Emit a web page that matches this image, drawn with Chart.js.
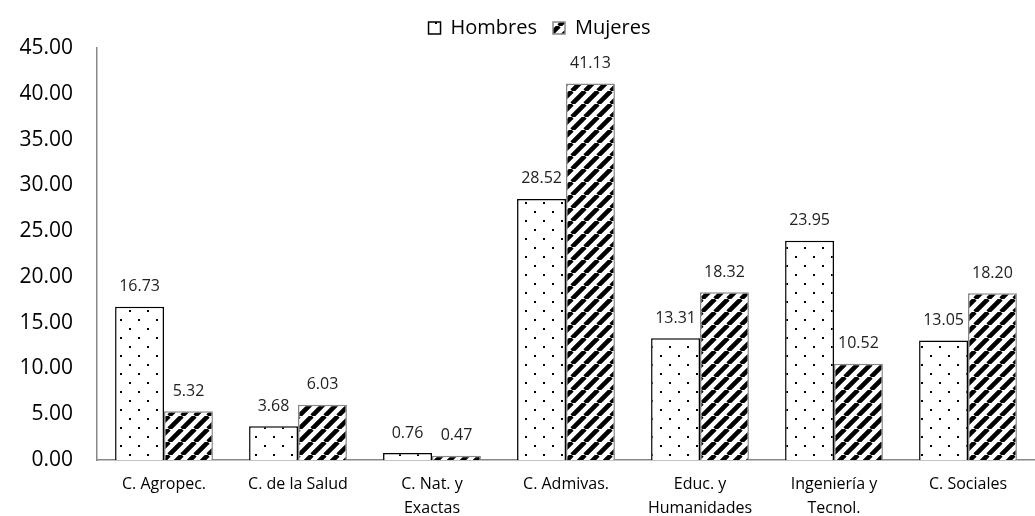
<!DOCTYPE html>
<html lang="es">
<head>
<meta charset="UTF-8">
<title>Hombres y Mujeres por área</title>
<script src="https://cdn.jsdelivr.net/npm/chart.js@4.4.8/dist/chart.umd.min.js"></script>
<style>
    html, body { margin: 0; padding: 0; background: #fff; }
    #wrap { width: 1035px; height: 516px; }
</style>
</head>
<body>
<div id="wrap"><canvas id="myChart"></canvas></div>
<script>
    const categories = [
        'C. Agropec.',
        'C. de la Salud',
        ['C. Nat. y', 'Exactas'],
        'C. Admivas.',
        ['Educ. y', 'Humanidades'],
        ['Ingeniería y', 'Tecnol.'],
        'C. Sociales'
    ]
    const hombres = [16.73, 3.68, 0.76, 28.52, 13.31, 23.95, 13.05]
    const mujeres = [5.32, 6.03, 0.47, 41.13, 18.32, 10.52, 18.20]
    const yTicks = [0, 5, 10, 15, 20, 25, 30, 35, 40, 45]

    const fontFamily = '"Open Sans", sans-serif'

    // dotted fill for Hombres
    const dotPattern = () => {
        const c = document.createElement('canvas')
        c.width = 18; c.height = 18
        const g = c.getContext('2d')
        g.fillStyle = '#fff'
        g.fillRect(0, 0, 18, 18)
        g.fillStyle = '#000'
        g.fillRect(3, 4, 2, 2)
        g.fillRect(12, 13, 2, 2)
        return g.createPattern(c, 'repeat')
    }

    // wide diagonal stripes for Mujeres
    const stripePattern = () => {
        const s = 13
        const c = document.createElement('canvas')
        c.width = s; c.height = s
        const g = c.getContext('2d')
        g.fillStyle = '#fff'
        g.fillRect(0, 0, s, s)
        g.strokeStyle = '#000'
        g.lineWidth = 4.6
        g.beginPath()
        for (let k = -1; k <= 1; k++) {
            g.moveTo(k * s, s)
            g.lineTo(k * s + s, 0)
        }
        g.stroke()
        return g.createPattern(c, 'repeat')
    }

    const barLabels = {
        id: 'barLabels',
        afterDatasetsDraw(chart) {
            const ctx = chart.ctx
            ctx.save()
            ctx.font = '16px ' + fontFamily
            ctx.fillStyle = '#222'
            ctx.textAlign = 'center'
            ctx.textBaseline = 'bottom'
            chart.data.datasets.forEach((ds, i) => {
                chart.getDatasetMeta(i).data.forEach((bar, j) => {
                    ctx.fillText(ds.data[j].toFixed(2), bar.x, bar.y - 12)
                })
            })
            ctx.restore()
        }
    }

    // legend sits a little right of centre in the original
    const legendShift = {
        id: 'legendShift',
        afterLayout(chart) {
            chart.legend.left += 20
            chart.legend.right += 20
        }
    }

    const ctx = document.getElementById('myChart')
    const chart = new Chart(ctx, {
        type: 'bar',
        data: {
            labels: categories,
            datasets: [
                {
                    label: 'Hombres',
                    data: hombres,
                    backgroundColor: dotPattern(),
                    borderColor: '#000',
                    borderWidth: 1.5,
                },
                {
                    label: 'Mujeres',
                    data: mujeres,
                    backgroundColor: stripePattern(),
                    borderColor: '#888',
                    borderWidth: 1.5,
                }
            ]
        },
        options: {
            responsive: true,
            maintainAspectRatio: false,
            animation: false,
            layout: { padding: { left: 4, right: 0, top: 2, bottom: -16 } },
            datasets: {
                bar: { categoryPercentage: 0.73, barPercentage: 1.0 }
            },
            plugins: {
                legend: {
                    position: 'top',
                    labels: {
                        font: { family: fontFamily, size: 20 },
                        color: '#000',
                        boxWidth: 12,
                        boxHeight: 12,
                        padding: 16,
                    }
                },
                tooltip: { enabled: false }
            },
            scales: {
                x: {
                    grid: { display: false, drawTicks: false },
                    border: { color: '#888', width: 1.5 },
                    ticks: {
                        font: { family: fontFamily, size: 16, lineHeight: 1.5 },
                        color: '#000',
                        maxRotation: 0,
                        padding: 12,
                    }
                },
                y: {
                    min: 0,
                    max: 45,
                    afterBuildTicks: (axis) => {
                        axis.ticks = yTicks.map(v => ({ value: v }))
                    },
                    afterFit: (axis) => { axis.width = 93 },
                    grid: { display: false, drawTicks: false },
                    border: { color: '#888', width: 1.5 },
                    ticks: {
                        font: { family: fontFamily, size: 21 },
                        color: '#000',
                        padding: 24,
                        callback: v => Number(v).toFixed(2)
                    }
                }
            }
        },
        plugins: [barLabels, legendShift]
    })
</script>
</body>
</html>
